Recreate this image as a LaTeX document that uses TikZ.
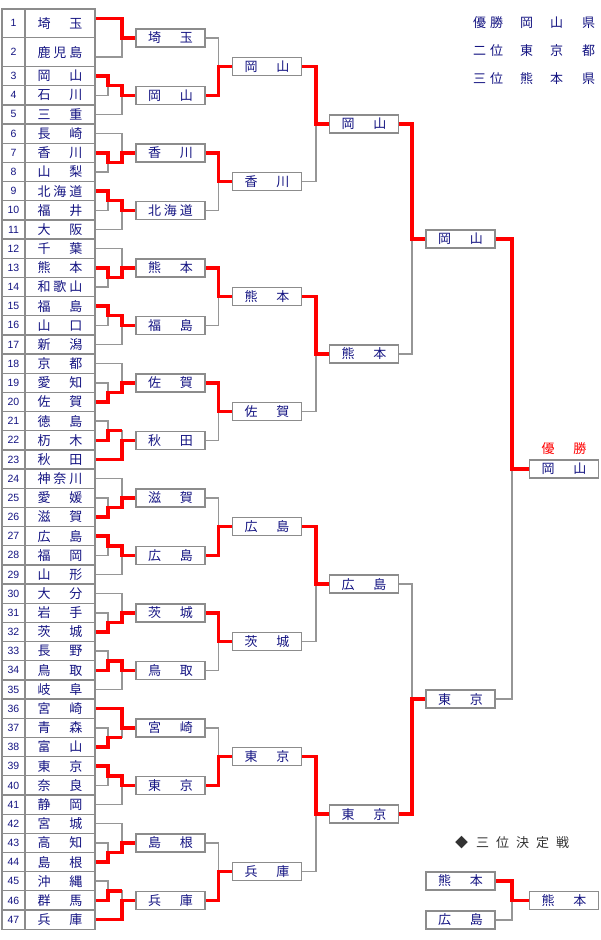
\documentclass[tikz,border=0pt]{standalone}
\usepackage{fontspec}
\setmainfont{Liberation Sans}
\newfontfamily\jp{Noto Sans CJK JP}
\usetikzlibrary{calc,backgrounds}
\definecolor{txt}{RGB}{20,20,130}
\definecolor{rl}{RGB}{255,0,0}
\definecolor{gl}{RGB}{150,150,150}
\definecolor{bd}{RGB}{140,140,140}
\definecolor{hd}{RGB}{50,50,50}
\def\U{19.17}
\newcommand\NA[2]{\makebox[45pt][s]{#1\hfill#2}}
\newcommand\NB[3]{\makebox[45pt][s]{#1\hfill#2\hfill#3}}
\newcommand\NL[5]{\makebox[30pt][s]{#1\hfill#2}\hspace{17pt}#3\hspace{17pt}#4\hspace{19pt}#5}
\tikzset{
 grayline/.style={draw=gl, line width=1.5pt},
 redline/.style={draw=rl, line width=3.5pt},
 cell/.style={draw=bd, line width=1.3pt, inner sep=0pt, outer sep=0pt, text=txt},
 numcell/.style={cell, minimum width=23pt, font=\fontsize{10.5}{12}\selectfont},
 namecell/.style={cell, minimum width=70pt, font=\jp\fontsize{13}{14}\selectfont},
 teambox/.style={draw=bd, line width=1.5pt, fill=white, minimum width=69pt, minimum height=18pt, inner sep=0pt, outer sep=0pt, text=txt, font=\jp\fontsize{13}{14}\selectfont},
 legend/.style={anchor=west, inner sep=0pt, text=txt, font=\jp\fontsize{13}{14}\selectfont},
}
% top-first group: rows a,b,c ; box
\newcommand\gT[4]{%
 \coordinate (m#1) at ($(e#1)!.5!(e#2)$);
 \draw[grayline] (e#1) -- (e#1 -| J1) -- (e#2 -| J1) -- (e#2);
 \draw[grayline] (m#1 -| J1) -- (m#1 -| J2) -- (e#3 -| J2) -- (e#3);
 \draw[grayline] (e#2 -| J2) -- (#4.west);}
% bottom-first group
\newcommand\gB[4]{%
 \coordinate (m#1) at ($(e#2)!.5!(e#3)$);
 \draw[grayline] (e#2) -- (e#2 -| J1) -- (e#3 -| J1) -- (e#3);
 \draw[grayline] (m#1 -| J1) -- (m#1 -| J2) -- (e#1 -| J2) -- (e#1);
 \draw[grayline] (e#2 -| J2) -- (#4.west);}
\newcommand\rfull[4]{\draw[redline] (e#1) -- (e#1 -| J1) -- (m#2 -| J1) -- (m#2 -| J2) -- (e#3 -| J2) -- (#4.west);}
\newcommand\rhalf[2]{\draw[redline] (e#1) -- (e#1 -| J1) -- (m#2 -| J1) -- (m#2 -| J2);}
\newcommand\rleaf[3]{\draw[redline] (e#1) -- (e#1 -| J2) -- (e#2 -| J2) -- (#3.west);}
\newcommand\mt[5]{%
 \draw[grayline] (#1.east) -- (#1.east -| #3) -- (#2.east -| #3) -- (#2.east);
 \draw[grayline] (#4.west -| #3) -- (#4.west);
 \draw[redline] (#5.east) -- (#5.east -| #3) -- (#4.west -| #3) -- (#4.west);}
\begin{document}
\begin{tikzpicture}[x=1pt,y=-1pt]
\useasboundingbox (0,0) rectangle (600,940);
\coordinate (J1) at (108,0); \coordinate (J2) at (122,0);
\coordinate (K1) at (218.5,0); \coordinate (K2) at (316,0);
\coordinate (K3) at (412,0); \coordinate (K4) at (512,0);

% table
\node[numcell, minimum height=28.755pt] (num1) at (13.5,{9+0.75*\U}) {1};
\node[namecell, minimum height=28.755pt] (n1) at (60,{9+0.75*\U}) {\NA{埼}{玉}};
\node[numcell, minimum height=28.755pt] (num2) at (13.5,{9+2.25*\U}) {2};
\node[namecell, minimum height=28.755pt] (n2) at (60,{9+2.25*\U}) {\NB{鹿}{児}{島}};
\coordinate (e1) at (95,{9+0.5*\U});
\coordinate (e2) at (95,{9+2.5*\U});
\foreach \k/\nm in {3/\NA{岡}{山},4/\NA{石}{川},5/\NA{三}{重},6/\NA{長}{崎},7/\NA{香}{川},8/\NA{山}{梨},
 9/\NB{北}{海}{道},10/\NA{福}{井},11/\NA{大}{阪},12/\NA{千}{葉},13/\NA{熊}{本},14/\NB{和}{歌}{山},
 15/\NA{福}{島},16/\NA{山}{口},17/\NA{新}{潟},18/\NA{京}{都},19/\NA{愛}{知},20/\NA{佐}{賀},
 21/\NA{徳}{島},22/\NA{杤}{木},23/\NA{秋}{田},24/\NB{神}{奈}{川},25/\NA{愛}{媛},26/\NA{滋}{賀},
 27/\NA{広}{島},28/\NA{福}{岡},29/\NA{山}{形},30/\NA{大}{分},31/\NA{岩}{手},32/\NA{茨}{城},
 33/\NA{長}{野},34/\NA{鳥}{取},35/\NA{岐}{阜},36/\NA{宮}{崎},37/\NA{青}{森},38/\NA{富}{山},
 39/\NA{東}{京},40/\NA{奈}{良},41/\NA{静}{岡},42/\NA{宮}{城},43/\NA{高}{知},44/\NA{島}{根},
 45/\NA{沖}{縄},46/\NA{群}{馬},47/\NA{兵}{庫}}{
 \node[numcell, minimum height=19.17pt] (num\k) at (13.5,{9+(\k+0.5)*\U}) {\k};
 \node[namecell, minimum height=19.17pt] (n\k) at (60,{9+(\k+0.5)*\U}) {\nm};
 \coordinate (e\k) at (95,{9+(\k+0.5)*\U});
}

% round 1 boxes
\foreach \i/\nm in {1/\NA{埼}{玉},2/\NA{岡}{山},3/\NA{香}{川},4/\NB{北}{海}{道},5/\NA{熊}{本},6/\NA{福}{島},
 7/\NA{佐}{賀},8/\NA{秋}{田},9/\NA{滋}{賀},10/\NA{広}{島},11/\NA{茨}{城},12/\NA{鳥}{取},
 13/\NA{宮}{崎},14/\NA{東}{京},15/\NA{島}{根},16/\NA{兵}{庫}}{
 \node[teambox] (a\i) at (170.5,{9+(3*\i-1.5)*\U}) {\nm};
}
% round 2
\foreach \i/\nm in {1/\NA{岡}{山},2/\NA{香}{川},3/\NA{熊}{本},4/\NA{佐}{賀},5/\NA{広}{島},6/\NA{茨}{城},7/\NA{東}{京},8/\NA{兵}{庫}}{
 \node[teambox] (b\i) at (267,{9+(6*\i-3)*\U}) {\nm};
}
% round 3
\foreach \i/\nm in {1/\NA{岡}{山},2/\NA{熊}{本},3/\NA{広}{島},4/\NA{東}{京}}{
 \node[teambox] (c\i) at (364,{9+(12*\i-6)*\U}) {\nm};
}
% round 4
\node[teambox] (d1) at (460.5,{9+12*\U}) {\NA{岡}{山}};
\node[teambox] (d2) at (460.5,{9+36*\U}) {\NA{東}{京}};
% final
\node[teambox] (f) at (564,{9+24*\U}) {\NA{岡}{山}};
\node[inner sep=0pt, text=rl, font=\jp\fontsize{13}{14}\selectfont] (winlabel) at (564,449) {\NA{優}{勝}};
% third place
\node[anchor=west, inner sep=0pt, text=hd, font=\jp\fontsize{13}{14}\selectfont] (thirdhead) at (455,843)
 {◆\hspace{8pt}三\hspace{7pt}位\hspace{7pt}決\hspace{7pt}定\hspace{7pt}戦};
\node[teambox] (t1) at (460.5,881) {\NA{熊}{本}};
\node[teambox] (t2) at (460.5,920) {\NA{広}{島}};
\node[teambox] (t3) at (564,900.5) {\NA{熊}{本}};
% legend
\node[legend] (lg1) at (473,23) {\NL{優}{勝}{岡}{山}{県}};
\node[legend] (lg2) at (473,51) {\NL{二}{位}{東}{京}{都}};
\node[legend] (lg3) at (473,79) {\NL{三}{位}{熊}{本}{県}};

\begin{pgfonlayer}{background}
\fill[white] (0,0) rectangle (600,940);
% group 1
\draw[grayline] (e1) -- (e1 -| J2) -- (e2 -| J2) -- (e2);
\draw[grayline] (a1.west -| J2) -- (a1.west);
\draw[redline] (e1) -- (e1 -| J2) -- (a1.west -| J2) -- (a1.west);
\gT{3}{4}{5}{a2} \rfull{3}{3}{4}{a2}
\gB{6}{7}{8}{a3} \rfull{7}{6}{7}{a3}
\gT{9}{10}{11}{a4} \rfull{9}{9}{10}{a4}
\gB{12}{13}{14}{a5} \rfull{13}{12}{13}{a5}
\gT{15}{16}{17}{a6} \rfull{15}{15}{16}{a6}
\gB{18}{19}{20}{a7} \rfull{20}{18}{19}{a7}
\gT{21}{22}{23}{a8} \rhalf{22}{21} \rleaf{23}{22}{a8}
\gB{24}{25}{26}{a9} \rfull{26}{24}{25}{a9}
\gT{27}{28}{29}{a10} \rfull{27}{27}{28}{a10}
\gB{30}{31}{32}{a11} \rfull{32}{30}{31}{a11}
\gT{33}{34}{35}{a12} \rfull{34}{33}{34}{a12}
\gB{36}{37}{38}{a13} \rhalf{38}{36} \rleaf{36}{37}{a13}
\gT{39}{40}{41}{a14} \rfull{39}{39}{40}{a14}
\gB{42}{43}{44}{a15} \rfull{44}{42}{43}{a15}
\gT{45}{46}{47}{a16} \rhalf{46}{45} \rleaf{47}{46}{a16}
% round 1 -> 2
\mt{a1}{a2}{K1}{b1}{a2}
\mt{a3}{a4}{K1}{b2}{a3}
\mt{a5}{a6}{K1}{b3}{a5}
\mt{a7}{a8}{K1}{b4}{a7}
\mt{a9}{a10}{K1}{b5}{a10}
\mt{a11}{a12}{K1}{b6}{a11}
\mt{a13}{a14}{K1}{b7}{a14}
\mt{a15}{a16}{K1}{b8}{a16}
% round 2 -> 3
\mt{b1}{b2}{K2}{c1}{b1}
\mt{b3}{b4}{K2}{c2}{b3}
\mt{b5}{b6}{K2}{c3}{b5}
\mt{b7}{b8}{K2}{c4}{b7}
% round 3 -> 4
\mt{c1}{c2}{K3}{d1}{c1}
\mt{c3}{c4}{K3}{d2}{c4}
% final and third place
\mt{d1}{d2}{K4}{f}{d1}
\mt{t1}{t2}{K4}{t3}{t1}
\end{pgfonlayer}
\end{tikzpicture}
\end{document}
